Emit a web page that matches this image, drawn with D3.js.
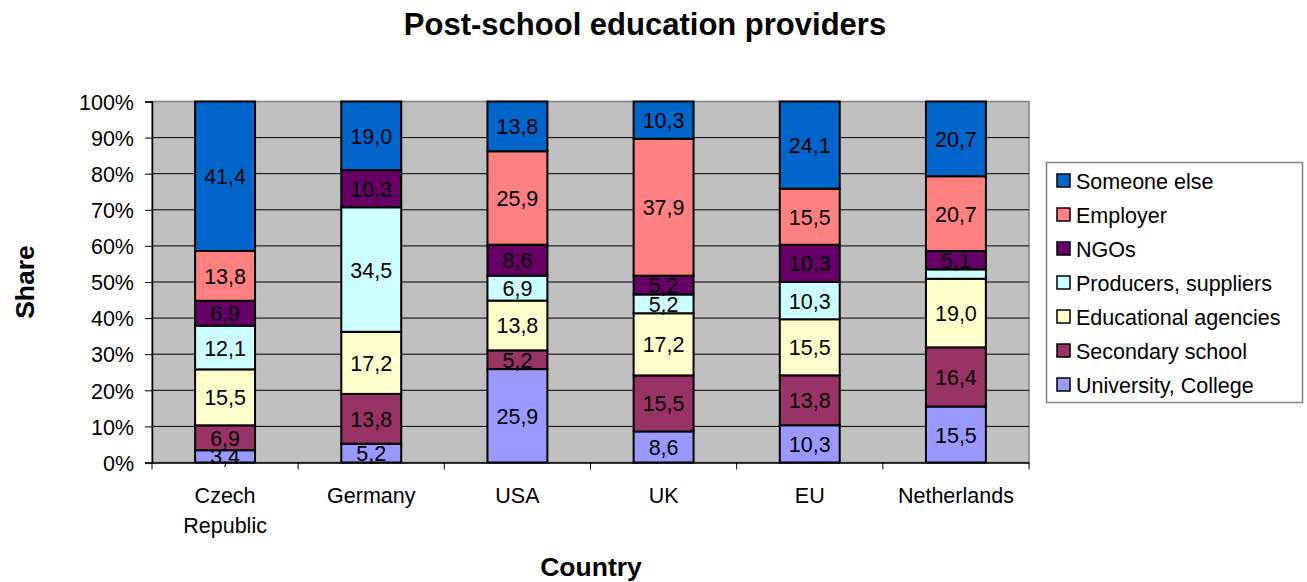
<!DOCTYPE html>
<html>
<head>
<meta charset="utf-8">
<script src="https://cdn.jsdelivr.net/npm/d3@7"></script>
<style>
  body { margin: 0; background: #fff; }
  svg { display: block; font-family: "Liberation Sans", Arial, sans-serif; }
</style>
</head>
<body>
<svg id="chart" width="1307" height="582"></svg>
<script>
// Countries along the x axis
const countries = ["Czech Republic", "Germany", "USA", "UK", "EU", "Netherlands"];

// Shares (%) per provider type, bottom of the stack first
const university = [3.4, 5.2, 25.9, 8.6, 10.3, 15.5];
const secondary  = [6.9, 13.8, 5.2, 15.5, 13.8, 16.4];
const agencies   = [15.5, 17.2, 13.8, 17.2, 15.5, 19.0];
const producers  = [12.1, 34.5, 6.9, 5.2, 10.3, 2.6];
const ngos       = [6.9, 10.3, 8.6, 5.2, 10.3, 5.1];
const employer   = [13.8, 0, 25.9, 37.9, 15.5, 20.7];
const someone    = [41.4, 19.0, 13.8, 10.3, 24.1, 20.7];

const seriesNames = ["University, College", "Secondary school", "Educational agencies",
  "Producers, suppliers", "NGOs", "Employer", "Someone else"];
const seriesValues = [university, secondary, agencies, producers, ngos, employer, someone];
const seriesColors = ["#9999FF", "#993366", "#FFFFCC", "#CCFFFF", "#660066", "#FF8080", "#0066CC"];

const yTicks = [0, 10, 20, 30, 40, 50, 60, 70, 80, 90, 100];

const FONT = "Liberation Sans, Arial, sans-serif";
const svg = d3.select("#chart");
const plot = { left: 152, right: 1029, top: 101.5, bottom: 462.5 };

const x = d3.scaleBand().domain(countries).range([plot.left, plot.right]).paddingInner(0.59).paddingOuter(0.295);
// Each column is normalised to its own total (100% stacked)
const y = d3.scaleLinear().domain([0, 1]).range([plot.bottom, plot.top]);

// Plot background
svg.append("rect")
  .attr("x", plot.left).attr("y", plot.top)
  .attr("width", plot.right - plot.left).attr("height", plot.bottom - plot.top)
  .attr("fill", "#C0C0C0").attr("stroke", "#808080").attr("stroke-width", 1.5);

// Gridlines
svg.append("g").selectAll("line").data(yTicks.slice(1, -1)).join("line")
  .attr("x1", plot.left).attr("x2", plot.right)
  .attr("y1", d => y(d / 100)).attr("y2", d => y(d / 100))
  .attr("stroke", "#000").attr("stroke-width", 1);

// Stack data
const rows = countries.map((c, i) => {
  const r = { country: c };
  seriesNames.forEach((s, j) => r[s] = seriesValues[j][i]);
  return r;
});
const stacked = d3.stack().keys(seriesNames).offset(d3.stackOffsetExpand)(rows);

const fmt = v => v.toFixed(1).replace(".", ",");

const layers = svg.append("g").selectAll("g").data(stacked).join("g")
  .attr("fill", (d, i) => seriesColors[i]);

layers.selectAll("rect").data(s => s.filter(p => p.data[s.key] > 0)).join("rect")
  .attr("x", d => x(d.data.country))
  .attr("width", x.bandwidth())
  .attr("y", d => y(d[1]))
  .attr("height", d => y(d[0]) - y(d[1]))
  .attr("stroke", "#000").attr("stroke-width", 2);

// Data labels (segments too thin for text stay unlabelled)
svg.append("g").selectAll("g").data(stacked).join("g")
  .each(function(s) {
    d3.select(this).selectAll("text").data(s.filter(p => p.data[s.key] >= 3)).join("text")
      .attr("x", d => x(d.data.country) + x.bandwidth() / 2)
      .attr("y", d => (y(d[0]) + y(d[1])) / 2 + 8)
      .attr("text-anchor", "middle")
      .attr("font-size", 21.5)
      .attr("fill", "#000")
      .text(d => fmt(d.data[s.key]));
  });

// Y axis
const yAxis = svg.append("g").attr("transform", `translate(${plot.left},0)`)
  .call(d3.axisLeft(y).tickValues(yTicks.map(d => d / 100)).tickFormat(d => Math.round(d * 100) + "%").tickSize(7).tickPadding(11));
yAxis.select(".domain").attr("stroke", "#000").attr("stroke-width", 1.5);
yAxis.selectAll(".tick line").attr("stroke", "#000");
yAxis.selectAll("text").attr("font-size", 21.5).attr("font-family", FONT).attr("fill", "#000").attr("dy", "0.36em");

// X axis
const xAxis = svg.append("g").attr("transform", `translate(0,${plot.bottom})`)
  .call(d3.axisBottom(x).tickSize(0).tickPadding(0).tickFormat(""));
xAxis.select(".domain").attr("stroke", "#000").attr("stroke-width", 1.5);
xAxis.selectAll(".tick").each(function(d) {
  const words = d.split(" ");
  const t = d3.select(this).append("text")
    .attr("fill", "#000").attr("font-size", 21.5).attr("text-anchor", "middle")
    .attr("font-family", FONT);
  words.forEach((w, i) => t.append("tspan").attr("x", 0).attr("y", 40 + i * 30).text(w));
});
// Category separator ticks below the axis
svg.append("g").selectAll("line").data(d3.range(countries.length + 1)).join("line")
  .attr("x1", i => plot.left + i * (plot.right - plot.left) / countries.length)
  .attr("x2", i => plot.left + i * (plot.right - plot.left) / countries.length)
  .attr("y1", plot.bottom).attr("y2", plot.bottom + 7)
  .attr("stroke", "#000");

// Title and axis titles
svg.append("text").attr("x", 645).attr("y", 35).attr("text-anchor", "middle")
  .attr("font-size", 31).attr("font-weight", "bold").text("Post-school education providers");
svg.append("text").attr("x", 591).attr("y", 576).attr("text-anchor", "middle")
  .attr("font-size", 26.5).attr("font-weight", "bold").text("Country");
svg.append("text").attr("transform", "translate(34,282) rotate(-90)").attr("text-anchor", "middle")
  .attr("font-size", 26.5).attr("font-weight", "bold").text("Share");

// Legend (top entry = top of stack)
const legend = svg.append("g");
legend.append("rect").attr("x", 1046.5).attr("y", 162.5).attr("width", 256).attr("height", 240)
  .attr("fill", "#fff").attr("stroke", "#808080").attr("stroke-width", 1.5);
const legendOrder = d3.range(seriesNames.length).reverse();
const li = legend.selectAll("g.item").data(legendOrder).join("g")
  .attr("transform", (d, i) => `translate(1057,${181 + i * 34})`);
li.append("rect").attr("x", 0).attr("y", -7).attr("width", 13).attr("height", 13)
  .attr("fill", d => seriesColors[d]).attr("stroke", "#000").attr("stroke-width", 1.5);
li.append("text").attr("x", 19).attr("y", 8).attr("font-size", 21.5).text(d => seriesNames[d]);
</script>
</body>
</html>
